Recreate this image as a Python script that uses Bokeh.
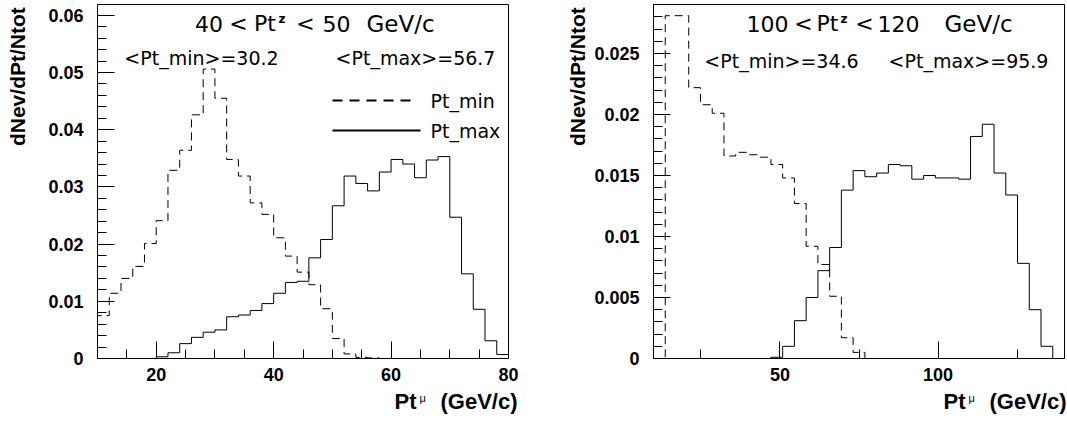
import numpy as np
from bokeh.plotting import figure
from bokeh.layouts import row, column
from bokeh.models import FixedTicker, CustomJSTickFormatter, Label
from bokeh.embed import file_html
from bokeh.resources import INLINE

# ---------------- data ----------------
left_bins = (10.0, 80.0)
left_ptmin = [0.0075, 0.0114, 0.0140, 0.0161, 0.0201, 0.0241, 0.0329, 0.0364, 0.0426, 0.0506,
              0.0455, 0.0348, 0.0319, 0.0272, 0.0252, 0.0211, 0.0179, 0.0151, 0.0129, 0.0087,
              0.0035, 0.0008, 0.0002, 0.0001, 0.0, 0.0, 0.0, 0.0, 0.0, 0.0,
              0.0, 0.0, 0.0, 0.0, 0.0]
left_ptmax = [0.0, 0.0, 0.0, 0.0, 0.0, 0.0003, 0.0010, 0.0026, 0.0037, 0.0046,
              0.0050, 0.0073, 0.0076, 0.0084, 0.0096, 0.0114, 0.0133, 0.0135, 0.0176, 0.0208,
              0.0267, 0.0319, 0.0306, 0.0293, 0.0326, 0.0348, 0.0340, 0.0316, 0.0347, 0.0353,
              0.0247, 0.0148, 0.0086, 0.0031, 0.0007]

right_bins = (10.0, 140.0)
right_ptmin = [0.0, 0.0281, 0.0281, 0.0222, 0.0208, 0.0201, 0.0166, 0.0169, 0.0167, 0.0165,
               0.0159, 0.0148, 0.0127, 0.0092, 0.0077, 0.0051, 0.0017, 0.0005, 0.0, 0.0,
               0.0, 0.0, 0.0, 0.0, 0.0, 0.0, 0.0, 0.0, 0.0, 0.0,
               0.0, 0.0, 0.0, 0.0, 0.0]
right_ptmax = [0.0, 0.0, 0.0, 0.0, 0.0, 0.0, 0.0, 0.0, 0.0, 0.0,
               0.0001, 0.0010, 0.0031, 0.0050, 0.0072, 0.0091, 0.0138, 0.0154, 0.0149, 0.0152,
               0.0159, 0.0158, 0.0147, 0.0150, 0.0148, 0.0148, 0.0147, 0.0182, 0.0192, 0.0152,
               0.0134, 0.0078, 0.0040, 0.0010, 0.0]

left_xticks = [20, 40, 60, 80]
left_xminor = [15, 25, 30, 35, 45, 50, 55, 65, 70, 75]
left_yticks = [0, 0.01, 0.02, 0.03, 0.04, 0.05, 0.06]
left_yminor = [0.002, 0.004, 0.006, 0.008, 0.012, 0.014, 0.016, 0.018, 0.022, 0.024, 0.026, 0.028,
               0.032, 0.034, 0.036, 0.038, 0.042, 0.044, 0.046, 0.048, 0.052, 0.054, 0.056, 0.058]
right_xticks = [50, 100]
right_xminor = [25, 75, 125]
right_yticks = [0, 0.005, 0.01, 0.015, 0.02, 0.025]
right_yminor = [0.001, 0.002, 0.003, 0.004, 0.006, 0.007, 0.008, 0.009, 0.011, 0.012, 0.013, 0.014,
                0.016, 0.017, 0.018, 0.019, 0.021, 0.022, 0.023, 0.024, 0.026, 0.027, 0.028]

left_title = ["40", "<", "Pt", "z", "<", "50", "GeV/c"]
right_title = ["100", "<", "Pt", "z", "<", "120", "GeV/c"]
left_means = ["<Pt_min>=30.2", "<Pt_max>=56.7"]
right_means = ["<Pt_min>=34.6", "<Pt_max>=95.9"]
legend_labels = ["Pt_min", "Pt_max"]
y_title = "dNev/dPt/Ntot"
x_title = ["Pt", "\u03bc", "(GeV/c)"]

# ---------------- layout helpers ----------------
MAIN_H = 390
TOTAL_H = 418
FRAME_TOP, FRAME_BOTTOM = 4, 358
FRAME_H = FRAME_BOTTOM - FRAME_TOP
TEXT_FONT = "DejaVu Sans"
AX_FONT = "Liberation Sans"

fmt = CustomJSTickFormatter(code="""
if (Math.abs(tick) < 1e-12) { return "0"; }
return String(parseFloat(tick.toFixed(4)));
""")


def outline(lo, hi, vals):
    n = len(vals)
    edges = np.linspace(lo, hi, n + 1)
    xs = np.repeat(edges, 2)
    ys = np.concatenate([[0.0], np.repeat(np.asarray(vals, float), 2), [0.0]])
    return xs, ys


def make_panel(canvas_x0, frame_x0, frame_x1, width, xr, y_per_px, xt, xm, yt, ym,
               pmin, pmax):
    bl = frame_x0 - canvas_x0
    br = width - bl - (frame_x1 - frame_x0)
    y_hi = FRAME_H * y_per_px
    p = figure(width=width, height=MAIN_H, x_range=xr, y_range=(0, y_hi),
               output_backend="svg", toolbar_location=None,
               min_border_left=bl, min_border_right=br,
               min_border_top=FRAME_TOP, min_border_bottom=MAIN_H - FRAME_BOTTOM)
    p.xgrid.visible = False
    p.ygrid.visible = False
    p.outline_line_color = "black"
    p.outline_line_alpha = 1.0
    p.outline_line_width = 1
    p.background_fill_color = "white"
    p.border_fill_color = "white"

    p.xaxis.ticker = FixedTicker(ticks=xt, minor_ticks=xm)
    p.yaxis.ticker = FixedTicker(ticks=yt, minor_ticks=ym)
    p.yaxis.formatter = fmt
    for ax in (p.xaxis, p.yaxis):
        ax.axis_line_color = "black"
        ax.major_tick_line_color = "black"
        ax.minor_tick_line_color = "black"
        ax.major_tick_in = 17
        ax.major_tick_out = 0
        ax.minor_tick_in = 9
        ax.minor_tick_out = 0
        ax.major_label_text_font = AX_FONT
        ax.major_label_text_font_style = "bold"
        ax.major_label_text_font_size = "18px"
        ax.major_label_text_color = "black"
    p.yaxis.major_label_standoff = 14
    p.xaxis.major_label_standoff = 9

    xs, ys = outline(xr[0], xr[1], pmin)
    p.line(xs, ys, line_color="black", line_width=1, line_dash="8 5")
    xs, ys = outline(xr[0], xr[1], pmax)
    p.line(xs, ys, line_color="black", line_width=1)

    sx = (xr[1] - xr[0]) / (frame_x1 - frame_x0)

    def X(px):
        return xr[0] + (px - frame_x0) * sx

    def Y(py):
        return (FRAME_BOTTOM - py) * y_per_px

    return p, X, Y


def make_strip(x0, x1, y0, y1):
    """Blank text strip whose data coordinates are page pixels (x, -y)."""
    s = figure(width=x1 - x0, height=y1 - y0, x_range=(x0, x1), y_range=(-y1, -y0),
               output_backend="svg", toolbar_location=None, min_border=0,
               x_axis_location=None, y_axis_location=None)
    s.xgrid.visible = False
    s.ygrid.visible = False
    s.outline_line_color = None
    s.background_fill_color = "white"
    s.border_fill_color = "white"
    return s, (lambda px: px), (lambda py: -py)


def add_text(p, X, Y, px, py, text, size, align="center", baseline="middle",
             font=TEXT_FONT, style="normal", angle=0.0):
    p.add_layout(Label(x=X(px), y=Y(py), text=text, text_font=font,
                       text_font_size=f"{size}px", text_font_style=style,
                       text_align=align, text_baseline=baseline, text_color="black",
                       angle=angle))


# ---------------- left panel ----------------
pL, XL, YL = make_panel(28, 97, 508, 533, left_bins, 0.01 / 57.2,
                        left_xticks, left_xminor, left_yticks, left_yminor,
                        left_ptmin, left_ptmax)
title_sizes = [22, 22, 22, None, 22, 22, 23]
for txt, cx, fs in zip(left_title, [208.5, 238, 264.5, None, 305, 336, 400], title_sizes):
    if cx is None:
        continue
    add_text(pL, XL, YL, cx, 23, txt, fs)
add_text(pL, XL, YL, 281.5, 18.5, left_title[3], 12, style="bold")
add_text(pL, XL, YL, 201, 57, left_means[0], 19)
add_text(pL, XL, YL, 415, 57, left_means[1], 19)
pL.line([XL(332), XL(410)], [YL(100), YL(100)], line_color="black", line_width=2, line_dash="10 7")
pL.line([XL(332), XL(420)], [YL(130), YL(130)], line_color="black", line_width=2)
add_text(pL, XL, YL, 430, 100, legend_labels[0], 19, align="left")
add_text(pL, XL, YL, 430, 130, legend_labels[1], 19, align="left")

# ---------------- right panel ----------------
pR, XR, YR = make_panel(591, 653, 1064, 476, right_bins, 0.005 / 61.0,
                        right_xticks, right_xminor, right_yticks, right_yminor,
                        right_ptmin, right_ptmax)
for txt, cx, fs in zip(right_title, [767, 803, 827, None, 864, 898, 978], title_sizes):
    if cx is None:
        continue
    add_text(pR, XR, YR, cx, 23, txt, fs)
add_text(pR, XR, YR, 843.5, 18.5, right_title[3], 12, style="bold")
add_text(pR, XR, YR, 781, 60.5, right_means[0], 19)
add_text(pR, XR, YR, 968, 60.5, right_means[1], 19)

# ---------------- y-title strips ----------------
sYL, XsL, YsL = make_strip(0, 28, 0, MAIN_H)
add_text(sYL, XsL, YsL, 16.5, 3, y_title, 21, align="right",
         font=AX_FONT, style="bold", angle=np.pi / 2)
sYR, XsR, YsR = make_strip(561, 591, 0, MAIN_H)
add_text(sYR, XsR, YsR, 576.5, 3, y_title, 21, align="right",
         font=AX_FONT, style="bold", angle=np.pi / 2)

# ---------------- x-title strip ----------------
sX, XsX, YsX = make_strip(0, 1067, MAIN_H, TOTAL_H)
for end in (517, 1066):
    add_text(sX, XsX, YsX, end - 101, 401, x_title[0], 22, align="right", font=AX_FONT, style="bold")
    add_text(sX, XsX, YsX, end - 98, 397.5, x_title[1], 11, align="left", font=AX_FONT)
    add_text(sX, XsX, YsX, end, 401, x_title[2], 22, align="right", font=AX_FONT, style="bold")

layout = column(row(sYL, pL, sYR, pR), sX)

with open("out.html", "w") as f:
    f.write(file_html(layout, INLINE))
